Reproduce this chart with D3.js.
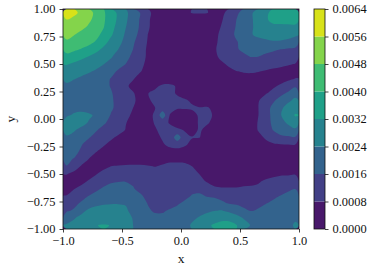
<!DOCTYPE html>
<html><head><meta charset="utf-8">
<script src="https://cdn.jsdelivr.net/npm/d3@7/dist/d3.min.js"></script>
<style>html,body{margin:0;padding:0;background:#fff}svg{display:block}
text{font-family:"Liberation Serif",serif;fill:#111}</style></head>
<body><div id="c"></div>
<script>
const levels=[0,0.0008,0.0016,0.0024,0.0032,0.0040,0.0048,0.0056,0.0064];
const xTicks=[-1,-0.5,0,0.5,1];
const yTicks=[-1,-0.75,-0.5,-0.25,0,0.25,0.5,0.75,1];
const xLabel="x", yLabel="y";
// field values in units of 1e-4; top row first
const fieldE4=[
[62,58,54,50,46.5,41,36,30.5,25.5,20.5,15.7,9.5,6,5,5,5.5,7,8.2,8.4,8.2,7,7,9.3,14.5,18.5,23,27,31,33.5,35,36,36.5],
[55.5,53.5,51.5,49,46,41,36,30.5,25.2,20,15.2,9,5.5,4,4,4,4.5,5,5,5,5.5,7.5,11,16,19.5,23,27,31,34,35,35.5,36],
[53,51.5,49.5,47,44,40.3,34.5,29.5,24.2,19.5,15,9,5,3.5,3,3,3,3,3,3.5,5,8.5,12.5,16.5,19.5,23,26.5,28.5,30,29.5,29.5,29.5],
[50,48.2,46,44,42,38,33,28,23,18.5,14,8,4.5,3,2.5,2.5,2.5,2.5,2.5,3,5.5,10,13.5,17,20,23.5,25.5,26.5,26.5,26,25.5,24.5],
[47,45.5,44,42,39.3,34.5,30,26,22,17,12.5,7.5,4,2.5,2,2,2,2,2.5,3,6,10.5,13,15.5,18,20.5,21.5,22.5,23.5,23.5,23,22.5],
[43,41.5,39.5,37.5,34,30.5,27,24,20,16,11,7,3.5,2,1.5,1.5,1.5,1.5,2,3,7,10.5,12.5,15.5,17,18,18.5,18,17,16,15,14],
[37.5,35.5,33.5,31.7,29.5,27,24.7,21.5,18,14.5,10.5,7,3.5,2,1.5,1,1,1,2,3,6.5,9.5,11.5,13.5,15,16.2,16,14.5,13.5,12.5,11.5,10.5],
[32.5,31,29.5,28,26.5,24.2,22,19,16,13,9.5,6.5,3.5,2,1.5,1,1,1,1.5,2.5,5,7,9,11,12,12.5,12,11,10.5,9.5,8.6,7.8],
[28.5,27.5,26,24.8,23,21,18.5,15,13,11,8.3,6,3.5,2,1.5,1,1,1,1.5,2,3.5,5.5,6.5,7.8,8.6,8.8,8.3,7.5,6.5,6,5.5,5],
[25.5,24.3,23,21.5,20,18,15.7,12.5,10,8.4,6,5,3.5,2.5,2,1.5,1,1,1,1.5,2,3,4,5,5.5,5.5,5,5,5,5.5,6.5,8.2],
[23,22,21,20,19,17.5,15.7,12.5,9,6.5,5,5,6.5,9.5,10,7,4,2,1,1,1.5,2,2.5,3,3.5,4,4.5,5.5,7,9,12,15],
[22.5,22,21.5,21,20,19,16.5,14,12,8.5,5.5,7.8,10,11,10.5,7,5,3,2,1.5,1.5,2,2.5,3,3.5,4,5.5,7.5,10,14,17,21],
[22,22,21.5,21,20.5,19,17,14,11,9,6,7,9.5,12,12,10.5,9,7,3.5,2.5,2,2,2.5,3,3.5,5,7.5,12,15,19,22.5,26],
[22,22,22,21.5,21,19.5,17,14,10.5,8,6,6.5,8,12,11,8.5,8.5,9,8.5,9,6,3,2.5,3,3.5,5,8,13,18,22.5,27,30],
[23,25,26,25,23,20,15.5,12.5,9.5,7,5.5,6,9,21,7.5,5,5,5.5,9,10.5,7,3.5,3,3,3.5,5,8,13,18,23.5,29,32.5],
[28,27.5,26,23.5,20.5,17,14,11,8.2,6.5,5,6,8.5,10,7.5,4,3.5,4.5,9,9,6,3,2.5,2.5,3,5,8.5,13,17.5,21.5,25,29],
[25.5,24.5,22.5,20,16.5,14,12,10,7.8,6,5,5.5,7.5,9.5,10,9.5,7.5,5,9,6,4,2.5,2,2,2.5,4.5,8.5,12,16.3,19,21,22.5],
[23.5,22.5,20,16.5,14,11.5,9,7,5.5,4.5,4,4,5.5,9,10,21,10,8.4,8.3,4.5,2.5,2,1.5,1.5,2,3.5,6,9,12,14.5,15,15.5],
[20,18.5,16.3,13.5,11,8.5,6.5,5,4,3.5,3,3,3.5,7,10,11,9,6,4,2.5,2,1.5,1.5,1.5,2,2.5,4,6,7,7.5,7.8,7.8],
[19,17.5,15,10.5,8,6,4.5,3.5,3,2.5,2.5,2.5,2.5,3,4.5,5,4,3,2.5,2,1.5,1.5,1.5,1.5,1.5,2,2.5,3,3.5,4,4,4.5],
[17,15.7,12,7.8,5.5,4.5,4,4,4.5,5,5,5,4.5,5.5,6,6,6,5,3.5,2.5,2,1.5,1.5,1.5,1.5,2,2,2.5,3,3,3.5,3.5],
[15.8,11.5,7,5,5,6.5,8.2,8.7,9,9,9,8.5,7.9,9,10.5,10.5,10,8.2,5.5,3.5,2.5,2,1.5,1.5,1.5,2,2,2.5,3,3.5,4,4.5],
[8.3,6,5,6,7.7,10,11.5,12.5,13,12.5,12,11.5,11.5,12,12.5,13,12,11,7.9,6,4,3.5,3.5,3.5,3.5,4,4.5,5.5,6,7,7,7.5],
[5,5,6.5,8.5,11,13,15,15.7,15.8,15,14.5,14,13.5,14,14.5,14.5,14.5,13,10,7.5,6,5.5,5.5,5.5,6,6.5,7.3,9,10.5,11.5,12,12.5],
[6,7.8,9.5,12,14.5,17,19,19.5,18.5,16.5,14,12.5,12,12.5,13,13,13.5,14,13.5,11.5,9,8.5,8.5,8.5,9,9,9.5,11,12.5,13.5,14.5,15.8],
[8.2,10.5,13.5,16.2,18.5,20,21,21.5,21,19,17,14,11.5,11,11.5,12,14,16.5,17.5,15.5,15,14.5,13.5,13,12.5,12.5,13,14,15,16.2,18,20],
[11,14,17,20,22,23,23.5,23.5,23.5,21.5,19,15.7,12,11,12.5,15,17.5,19.5,20.5,20.5,19,17,15.7,15,14.5,14.5,15,15.8,17,18.5,20,21],
[15,17,22,25.5,27,28,28,27.5,25,22,19.5,17,15,15,17,18.5,19.5,20.5,22,23,23.8,24.3,22.5,20,17,15.7,16.5,18,19.5,20.5,21,22],
[22,23.5,26,28.5,30,29.5,30,30,27.5,23.5,21,19.5,18,18,19,20,21.5,23,24.5,26,28,29.5,29.5,27,23.5,21,20,20,20.5,21,21.5,23],
[24.5,26,28.5,30.5,31.9,32.3,31.9,30.5,28,24,22.5,21,20,19.5,20,20.5,22,24.7,28,30.5,33,35,35,32.5,27.5,23.5,21,20.5,20.5,21,22,25]
];
const W=371,H=271,L=63,R=299,T=9,B=229,CL=314,CR=325;
const svg=d3.select("#c").append("svg").attr("width",W).attr("height",H);
const x=d3.scaleLinear([-1,1],[L,R]);
const y=d3.scaleLinear([-1,1],[B,T]);
const cy=d3.scaleLinear([levels[0],levels[levels.length-1]],[B,T]);
const color=i=>d3.interpolateViridis((i+0.5)/(levels.length-1));
const nr=fieldE4.length,nc=fieldE4[0].length;
const gx=d3.scaleLinear([0,nc],[L,R]),gy=d3.scaleLinear([0,nr],[T,B]);
const values=fieldE4.flat().map(v=>v*1e-4);
const bands=levels.slice(0,-1);
const contours=d3.contours().size([nc,nr]).thresholds(bands)(values);
const ringLine=d3.line().x(p=>gx(p[0])).y(p=>gy(p[1])).curve(d3.curveCatmullRomClosed.alpha(0.5));
const smoothPath=d=>d.coordinates.map(poly=>poly.map(r=>ringLine(r.slice(0,-1))).join("")).join("");
const clipId="plot";
svg.append("clipPath").attr("id",clipId).append("rect").attr("x",L).attr("y",T).attr("width",R-L).attr("height",B-T);
const plot=svg.append("g").attr("clip-path",`url(#${clipId})`);
plot.append("rect").attr("x",L).attr("y",T).attr("width",R-L).attr("height",B-T).attr("fill",color(0));
plot.selectAll("path").data(contours.slice(1)).join("path")
  .attr("d",smoothPath).attr("fill",(d,i)=>color(i+1));
// colorbar
svg.append("g").selectAll("rect").data(bands).join("rect")
  .attr("x",CL).attr("width",CR-CL)
  .attr("y",(d,i)=>cy(levels[i+1])).attr("height",(d,i)=>cy(levels[i])-cy(levels[i+1]))
  .attr("fill",(d,i)=>color(i));
const fs=12.4;
function style(g){
  g.select(".domain").remove();
  g.selectAll("line").attr("stroke","#111").attr("stroke-width",0.8);
  g.selectAll("text").attr("font-size",fs).attr("fill","#111");
}
const minus=s=>s.replace("-","\u2212");
svg.append("g").attr("transform",`translate(0,${B})`)
  .call(d3.axisBottom(x).tickValues(xTicks).tickSize(3.5).tickPadding(4).tickFormat(d=>minus(d3.format(".1f")(d))))
  .call(style);
svg.append("g").attr("transform",`translate(${L},0)`)
  .call(d3.axisLeft(y).tickValues(yTicks).tickSize(3.5).tickPadding(4).tickFormat(d=>minus(d3.format(".2f")(d))))
  .call(style);
svg.append("g").attr("transform",`translate(${CR},0)`)
  .call(d3.axisRight(cy).tickValues(levels).tickSize(3.5).tickPadding(4).tickFormat(d3.format(".4f")))
  .call(style);
for(const [a,b,c,d] of [[L,T,R-L,B-T],[CL,T,CR-CL,B-T]])
  svg.append("rect").attr("x",a).attr("y",b).attr("width",c).attr("height",d).attr("fill","none").attr("stroke","#111").attr("stroke-width",0.8);
svg.append("text").attr("x",(L+R)/2).attr("y",263).attr("text-anchor","middle").attr("font-size",13.5).text(xLabel);
svg.append("text").attr("transform",`translate(15,${(T+B)/2}) rotate(-90)`).attr("text-anchor","middle").attr("font-size",13.5).text(yLabel);
</script></body></html>
